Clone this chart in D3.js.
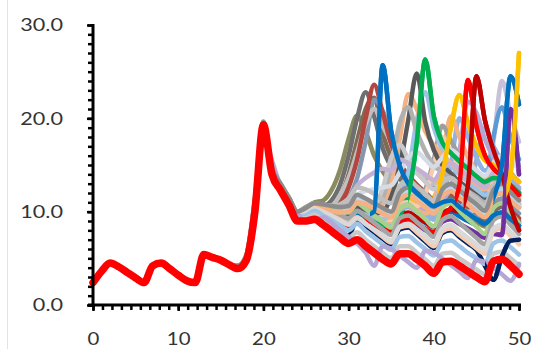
<!DOCTYPE html>
<html>
<head>
<meta charset="utf-8">
<script src="https://cdn.jsdelivr.net/npm/d3@7"></script>
<style>
  body { margin: 0; background: #fff; }
  svg text { font-family: Lato, "Open Sans", sans-serif; }
</style>
</head>
<body>
<svg id="chart" width="534" height="349"></svg>
<script>
// x categories and axis labels
const xCats = d3.range(0, 51);
const xTickLabels = [0, 10, 20, 30, 40, 50];
const yTickLabels = [0, 10, 20, 30];

// every run is the same up to x = 16
const sharedStart = [2.4, 3.6, 4.5, 4.1, 3.5, 2.9, 2.4, 4.2, 4.5, 3.9, 3.2, 2.6, 2.4, 5.4, 5.1, 4.8, 4.3];

// values from x = 17 to x = 50
const redTail = [3.9, 4.8, 10.0, 19.3,  14.0, 12.3, 10.7, 9.0, 9.0,  9.2, 8.6, 7.9, 7.2, 6.6,  7.0, 6.3, 5.6, 4.9, 4.4,  5.5, 5.5, 4.9, 4.2, 3.4,  4.6, 4.7, 4.2, 3.6, 3.0,  2.5, 4.7, 4.9, 4.2, 3.3];
const lowA = [4.0, 5.0, 10.6, 19.4,  14.2, 12.5, 10.9, 9.3, 9.3,  9.7, 9.1, 8.4, 7.8, 7.2,  7.8, 7.0, 6.3, 5.6, 5.0,  6.3, 6.3, 5.6, 4.9, 4.2,  5.5, 5.6, 5.0, 4.4, 3.8,  3.3, 5.5, 5.7, 5.0, 4.2];
const lowB = [4.1, 5.1, 10.9, 19.5,  14.4, 12.7, 11.1, 9.5, 9.6,  10.1, 9.6, 9.1, 8.5, 8.0,  8.7, 7.9, 7.2, 6.5, 5.9,  7.3, 7.4, 6.7, 6.0, 5.3,  6.7, 6.9, 6.3, 5.6, 5.0,  4.4, 6.6, 6.9, 6.2, 5.4];
const lowC = [4.1, 5.2, 11.1, 19.6,  14.5, 12.8, 11.3, 9.7, 9.9,  10.4, 10.0, 9.6, 9.1, 8.7,  9.4, 8.7, 8.0, 7.3, 6.7,  8.3, 8.5, 7.8, 7.0, 6.3,  7.9, 8.2, 7.5, 6.8, 6.1,  5.5, 7.9, 8.2, 7.4, 6.5];
const lowD = [4.2, 5.3, 11.3, 19.6,  14.6, 12.9, 11.4, 9.8, 10.1,  10.6, 10.3, 10.0, 9.6, 9.3,  10.1, 9.5, 8.8, 8.1, 7.5,  9.3, 9.6, 8.9, 8.1, 7.3,  9.1, 9.5, 8.8, 8.0, 7.2,  6.5, 9.1, 9.5, 8.6, 7.6];
const lowE = [4.2, 5.4, 11.5, 19.7,  14.7, 13.0, 11.5, 9.9, 10.3,  10.8, 10.6, 10.4, 10.1, 9.9,  10.9, 10.3, 9.6, 8.9, 8.3,  10.4, 10.8, 10.0, 9.2, 8.4,  10.4, 10.9, 10.1, 9.2, 8.4,  7.6, 10.4, 10.9, 9.9, 8.8];
const lowF = [4.2, 5.3, 11.2, 19.6,  14.7, 13.0, 11.5, 10.0, 10.4,  10.9, 10.8, 10.6, 10.5, 10.6,  11.8, 11.4, 10.9, 10.4, 10.0,  12.0, 12.6, 11.9, 11.2, 10.5,  12.4, 13.0, 12.3, 11.5, 10.8,  10.1, 12.3, 13.0, 12.1, 11.2];
const lowG = [4.1, 5.1, 10.7, 19.5,  14.4, 12.7, 11.1, 9.6, 9.8,  10.3, 9.9, 9.5, 9.0, 8.6,  9.3, 8.7, 8.1, 7.5, 6.9,  8.4, 8.7, 8.1, 7.4, 6.7,  8.2, 8.6, 7.9, 7.2, 6.5,  5.9, 8.2, 8.6, 7.8, 6.9];
const midA = [4.1, 5.2, 11.0, 19.6,  14.6, 12.9, 11.4, 9.9, 10.4,  10.9, 10.7, 10.6, 10.8, 11.4,  12.6, 12.4, 11.9, 11.3, 10.9,  12.8, 13.4, 12.7, 11.9, 11.2,  13.0, 13.6, 12.9, 12.1, 11.4,  10.7, 12.8, 13.5, 12.6, 11.7];
const midB = [4.1, 5.1, 10.8, 19.5,  14.5, 12.8, 11.2, 9.7, 10.1,  10.6, 10.3, 10.0, 9.8, 10.2,  11.4, 11.2, 10.7, 10.2, 9.8,  11.6, 12.1, 11.4, 10.7, 10.0,  11.8, 12.4, 11.7, 10.9, 10.2,  9.6, 11.7, 12.3, 11.5, 10.6];
const midC = [4.1, 5.1, 10.7, 19.5,  14.5, 12.8, 11.2, 9.7, 10.0,  10.5, 10.3, 10.1, 9.9, 10.0,  11.0, 10.8, 10.3, 9.8, 9.4,  11.2, 11.8, 11.2, 10.5, 9.8,  11.6, 12.2, 11.5, 10.8, 10.0,  9.4, 11.4, 12.0, 11.2, 10.4];
const midD = [4.1, 5.2, 10.9, 19.6,  14.6, 12.9, 11.4, 9.9, 10.3,  10.8, 10.6, 10.5, 10.6, 11.2,  12.8, 13.6, 14.2, 14.6, 14.4,  15.6, 15.2, 14.6, 14.0, 13.4,  14.6, 15.2, 14.6, 13.9, 13.2,  12.6, 14.2, 14.8, 14.0, 13.2];
const midE = [4.1, 5.1, 10.8, 19.5,  14.5, 12.8, 11.3, 9.8, 10.2,  10.7, 10.5, 10.3, 10.2, 10.6,  11.8, 12.2, 12.4, 12.6, 12.8,  14.2, 15.8, 16.4, 15.6, 14.8,  15.8, 16.6, 16.0, 15.2, 14.4,  13.8, 15.2, 16.0, 15.4, 14.6];
const lagA = [3.9, 4.6, 9.0, 18.5,  15.5, 12.8, 11.2, 9.8, 8.9,  9.0, 9.4, 8.8, 8.0, 7.3,  6.6, 5.6, 4.2, 6.3, 6.0,  5.3, 4.6, 4.0, 5.8, 5.6,  5.0, 4.3, 3.6, 2.9, 4.8,  4.6, 4.0, 3.3, 2.6, 4.4];
const lagB = [3.9, 4.7, 9.6, 19.2,  14.6, 12.6, 11.0, 9.4, 8.9,  9.1, 9.2, 8.6, 8.0, 7.4,  9.2, 8.5, 7.8, 7.1, 6.5,  8.1, 8.3, 7.6, 6.8, 6.1,  7.7, 8.0, 7.3, 6.6, 5.9,  4.2, 2.7, 5.2, 6.9, 7.0];

const peak31 = [4.2, 5.3, 11.1, 19.6,  14.7, 13.0, 11.5, 10.0, 10.5,  11.0, 11.2, 12.3, 14.5, 17.8,  20.3, 18.6, 16.0, 14.3, 13.1,  12.3, 12.6, 11.8, 11.0, 10.2,  10.7, 11.1, 10.4, 9.7, 9.0,  8.4, 9.3, 9.7, 9.0, 8.2];
const peak32 = [4.1, 5.2, 10.9, 19.5,  14.6, 12.9, 11.3, 9.8, 10.2,  10.7, 10.6, 11.2, 12.9, 16.0,  20.0, 22.8, 20.2, 16.8, 14.8,  13.5, 12.8, 12.0, 11.1, 10.3,  11.0, 11.4, 10.6, 9.9, 9.2,  8.6, 10.0, 10.5, 9.7, 8.8];
const peak32b = [4.1, 5.2, 10.8, 19.5,  14.6, 12.9, 11.3, 9.8, 10.2,  10.6, 10.4, 10.4, 11.6, 14.0,  17.6, 21.0, 22.2, 18.4, 15.8,  14.2, 13.2, 12.4, 11.6, 10.8,  11.4, 11.7, 10.9, 10.2, 9.6,  9.0, 10.2, 10.6, 9.8, 9.0];
const peak33 = [4.1, 5.1, 10.7, 19.5,  14.4, 12.7, 11.1, 9.6, 9.9,  10.5, 10.2, 10.1, 10.8, 12.6,  15.6, 20.0, 23.6, 20.6, 17.2,  15.2, 13.9, 12.9, 12.1, 11.3,  11.8, 12.0, 11.2, 10.6, 10.0,  9.4, 10.6, 10.9, 10.1, 9.3];
const peak33b = [4.1, 5.1, 10.6, 19.5,  14.4, 12.7, 11.1, 9.6, 9.8,  10.3, 10.0, 9.8, 10.2, 11.4,  13.6, 17.5, 22.0, 20.8, 18.4,  16.6, 15.2, 14.2, 13.3, 12.5,  12.6, 12.9, 12.2, 11.5, 10.8,  10.2, 11.0, 11.4, 10.6, 9.8];
const peak33c = [4.2, 5.3, 11.2, 19.6,  14.7, 13.0, 11.5, 10.0, 10.4,  10.9, 10.7, 10.7, 11.8, 13.6,  16.4, 19.4, 21.0, 19.2, 17.4,  16.0, 15.0, 14.2, 13.6, 13.0,  13.4, 13.8, 13.2, 12.6, 12.0,  11.4, 12.4, 12.8, 12.1, 11.4];
const peak34 = [4.0, 5.0, 10.5, 19.4,  14.3, 12.6, 11.0, 9.5, 9.6,  10.1, 9.8, 9.4, 9.0, 8.7,  9.5, 9.6, 10.0, 25.7, 18.6,  14.9, 13.0, 12.0, 11.2, 10.6,  11.0, 11.2, 10.5, 9.8, 9.2,  8.7, 9.6, 9.9, 9.2, 8.5];
const peak36 = [4.1, 5.2, 10.9, 19.5,  14.6, 12.9, 11.3, 9.8, 10.2,  10.6, 10.4, 10.2, 10.0, 10.2,  11.2, 11.0, 10.8, 12.5, 15.8,  17.2, 15.6, 14.2, 13.2, 12.4,  13.2, 13.6, 12.8, 12.0, 11.3,  10.6, 12.2, 12.8, 11.9, 11.0];
const peak37 = [4.1, 5.2, 10.9, 19.6,  14.6, 12.9, 11.4, 9.9, 10.3,  10.7, 10.5, 10.3, 10.1, 10.0,  11.1, 11.0, 10.7, 11.5, 15.0,  19.5, 21.2, 18.6, 16.5, 15.0,  14.2, 13.6, 12.8, 12.2, 11.6,  11.0, 12.0, 12.3, 11.6, 10.8];
const peak37b = [4.2, 5.2, 10.9, 19.6,  14.6, 12.9, 11.4, 9.9, 10.3,  10.7, 10.5, 10.3, 10.1, 10.0,  11.0, 10.9, 10.5, 10.8, 13.2,  17.8, 22.6, 21.0, 18.6, 17.1,  16.0, 15.2, 14.5, 13.8, 13.0,  12.4, 12.8, 13.0, 12.2, 11.4];
const peak38 = [4.1, 5.2, 10.8, 19.5,  14.6, 12.9, 11.3, 9.8, 10.2,  10.6, 10.3, 10.0, 9.7, 9.5,  10.4, 10.2, 9.8, 10.0, 11.6,  14.8, 19.8, 24.8, 19.6, 16.6,  15.0, 14.1, 13.2, 12.5, 11.8,  11.2, 11.8, 12.0, 11.3, 10.5];
const peak39 = [4.1, 5.1, 10.6, 19.5,  14.5, 12.8, 11.2, 9.7, 10.0,  10.4, 10.0, 9.6, 9.2, 8.9,  9.8, 9.5, 9.0, 8.6, 8.4,  9.6, 11.8, 17.5, 26.3, 20.2,  17.4, 16.3, 15.4, 14.6, 13.8,  13.2, 13.6, 13.5, 12.8, 12.0];
const peak39b = [4.1, 5.1, 10.7, 19.5,  14.5, 12.8, 11.3, 9.8, 10.1,  10.5, 10.2, 9.9, 9.5, 9.3,  10.2, 10.0, 9.6, 9.2, 9.6,  11.6, 14.2, 19.8, 22.8, 19.0,  16.6, 15.0, 14.0, 13.2, 12.5,  11.8, 12.2, 12.4, 11.6, 10.8];
const peak41 = [4.1, 5.1, 10.7, 19.5,  14.5, 12.8, 11.2, 9.7, 10.0,  10.4, 10.1, 9.8, 9.5, 9.4,  10.3, 10.1, 9.7, 9.3, 9.1,  10.6, 11.0, 10.6, 11.8, 15.0,  18.0, 16.4, 15.0, 14.0, 13.2,  12.4, 13.0, 13.2, 12.4, 11.6];
const peak41b = [4.1, 5.2, 10.8, 19.5,  14.6, 12.9, 11.3, 9.8, 10.2,  10.6, 10.4, 10.2, 10.0, 9.8,  10.8, 10.6, 10.2, 9.8, 9.6,  11.2, 11.8, 11.4, 12.4, 15.6,  19.2, 17.6, 16.0, 14.8, 13.8,  13.0, 13.4, 13.6, 12.9, 12.1];
const peak42 = [4.1, 5.1, 10.7, 19.5,  14.5, 12.8, 11.2, 9.7, 10.0,  10.4, 10.1, 9.8, 9.5, 9.3,  10.2, 10.0, 9.6, 9.2, 8.9,  10.3, 10.7, 10.2, 9.8, 11.0,  15.5, 20.2, 18.0, 15.8, 14.4,  13.4, 13.8, 13.4, 12.6, 11.8];
const peak43 = [4.1, 5.2, 10.8, 19.5,  14.6, 12.9, 11.3, 9.8, 10.2,  10.6, 10.4, 10.2, 10.0, 9.9,  10.9, 10.8, 10.4, 10.0, 9.8,  11.0, 11.4, 11.0, 10.6, 11.5,  14.0, 19.0, 22.5, 19.5, 17.0,  15.5, 15.0, 14.6, 14.0, 13.2];
const peak43b = [4.1, 5.1, 10.7, 19.5,  14.5, 12.8, 11.2, 9.7, 10.0,  10.4, 10.1, 9.8, 9.5, 9.2,  10.1, 9.8, 9.4, 9.0, 8.8,  10.2, 10.5, 10.0, 9.5, 9.2,  11.5, 15.0, 20.0, 18.0, 15.8,  14.4, 14.8, 14.2, 13.3, 12.4];
const peak44 = [4.0, 5.0, 10.4, 19.4,  14.3, 12.6, 11.0, 9.5, 9.6,  10.0, 9.7, 9.3, 8.9, 8.5,  9.3, 9.0, 8.6, 8.2, 7.8,  9.0, 9.2, 8.7, 8.2, 7.8,  9.5, 10.4, 12.8, 24.1, 19.2,  16.0, 14.6, 13.8, 12.8, 11.8];
const peak44b = [4.1, 5.2, 10.8, 19.5,  14.6, 12.9, 11.3, 9.8, 10.2,  10.6, 10.3, 10.1, 9.8, 9.6,  10.5, 10.3, 9.9, 9.5, 9.2,  10.6, 11.0, 10.5, 10.0, 9.6,  11.2, 12.6, 16.5, 21.8, 20.6,  17.8, 15.8, 14.6, 13.6, 12.6];
const peak45 = [4.1, 5.1, 10.6, 19.5,  14.5, 12.8, 11.2, 9.7, 10.0,  10.4, 10.0, 9.6, 9.3, 9.0,  9.8, 9.5, 9.1, 8.7, 8.3,  9.6, 9.9, 9.4, 8.9, 8.4,  9.8, 10.2, 10.0, 12.8, 24.5,  19.8, 16.6, 14.0, 10.5, 8.0];
const peak46 = [4.1, 5.1, 10.7, 19.5,  14.5, 12.8, 11.2, 9.7, 10.0,  10.4, 10.1, 9.8, 9.5, 9.3,  10.2, 10.0, 9.6, 9.2, 8.9,  10.3, 10.6, 10.1, 9.6, 9.2,  10.7, 11.1, 10.5, 11.8, 15.5,  19.0, 17.0, 15.4, 14.2, 13.2];
const peak47 = [4.1, 5.1, 10.7, 19.5,  14.5, 12.8, 11.2, 9.7, 10.0,  10.4, 10.1, 9.8, 9.5, 9.3,  10.2, 10.0, 9.6, 9.2, 8.9,  10.3, 10.6, 10.1, 9.6, 9.2,  10.7, 11.1, 10.5, 9.9, 9.4,  12.0, 18.0, 21.2, 18.0, 15.6];
const peak48 = [4.1, 5.1, 10.7, 19.5,  14.5, 12.8, 11.2, 9.7, 10.0,  10.4, 10.1, 9.8, 9.5, 9.2,  10.1, 9.8, 9.4, 9.0, 8.8,  10.2, 10.5, 10.0, 9.5, 9.2,  10.8, 11.2, 10.6, 10.0, 10.2,  12.5, 17.5, 24.0, 20.5, 17.5];
const peak49 = [4.0, 5.0, 10.5, 19.4,  14.4, 12.7, 11.1, 9.6, 9.8,  10.2, 9.9, 9.6, 9.2, 8.9,  9.7, 9.5, 9.1, 8.7, 8.3,  9.5, 9.8, 9.3, 8.8, 8.3,  9.6, 10.0, 9.5, 9.0, 8.6,  9.5, 11.5, 15.0, 24.5, 21.5];
const peak49b = [4.0, 5.0, 10.5, 19.4,  14.3, 12.6, 11.0, 9.5, 9.6,  10.0, 9.7, 9.3, 8.9, 8.5,  9.2, 8.8, 8.4, 8.0, 7.6,  8.8, 9.0, 8.5, 8.0, 7.6,  8.9, 9.2, 8.7, 8.2, 7.7,  7.2, 7.6, 7.5, 21.0, 14.0];
const peak50 = [4.1, 5.1, 10.7, 19.5,  14.5, 12.8, 11.2, 9.7, 10.0,  10.4, 10.1, 9.8, 9.5, 9.3,  10.2, 10.0, 9.6, 9.2, 8.9,  10.3, 10.6, 10.1, 9.6, 9.2,  10.7, 11.1, 10.5, 9.9, 9.4,  8.9, 10.5, 11.2, 14.0, 27.0];

// drawing order: first ones end up underneath
const runs = [
  { tail: lagB, color: "#002060" },
  { tail: peak50, color: "#ffc000" },
  { tail: peak49, color: "#0070c0" },
  { tail: peak49b, color: "#7030a0" },
  { tail: peak45, color: "#c00000" },
  { tail: peak44, color: "#ff0000" },
  { tail: peak43, color: "#ffc000" },
  { tail: peak39, color: "#00b050" },
  { tail: peak34, color: "#0070c0" },
  { tail: peak31, color: "#8b8b60" },
  { tail: peak32, color: "#6f6f6f" },
  { tail: peak32b, color: "#7f6a55" },
  { tail: peak33b, color: "#8497b0" },
  { tail: peak33c, color: "#bfbfbf" },
  { tail: peak33, color: "#b3473f" },
  { tail: peak48, color: "#c9c0da" },
  { tail: peak47, color: "#5b9bd5" },
  { tail: peak46, color: "#8faadc" },
  { tail: peak44b, color: "#b4a7d6" },
  { tail: peak43b, color: "#8fb4e3" },
  { tail: peak42, color: "#f4b183" },
  { tail: peak41b, color: "#9e9e9e" },
  { tail: peak41, color: "#f8cbad" },
  { tail: peak39b, color: "#9dc3e6" },
  { tail: peak37b, color: "#f4b183" },
  { tail: peak38, color: "#595959" },
  { tail: peak37, color: "#b0b0b0" },
  { tail: peak36, color: "#c9c9c9" },
  { tail: midE, color: "#d6dce5" },
  { tail: midD, color: "#c5b0d5" },
  { tail: midA, color: "#bfbfbf" },
  { tail: midB, color: "#bdd7ee" },
  { tail: lowE, color: "#a9d18e" },
  { tail: lowD, color: "#a5a5a5" },
  { tail: midC, color: "#f4b183" },
  { tail: lowC, color: "#f8cbad" },
  { tail: lowG, color: "#d9d9d9" },
  { tail: lowB, color: "#9dc3e6" },
  { tail: lowA, color: "#c9c9c9" },
  { tail: lagA, color: "#b4a7d6" },
  { tail: lowF, color: "#8c8c8c" }
];

// runs whose outbreak is brought to the front, from this x on
const frontFrom = [
  { tail: peak34, color: "#0070c0", from: 32.5 },
  { tail: peak39, color: "#00b050", from: 37 },
  { tail: peak43, color: "#ffc000", from: 40.5 },
  { tail: peak44, color: "#ff0000", from: 42.5 },
  { tail: peak45, color: "#c00000", from: 43.5 },
  { tail: peak49b, color: "#7030a0", from: 47.5 },
  { tail: peak49, color: "#0070c0", from: 47 },
  { tail: lagB, color: "#002060", from: 46 },
  { tail: peak50, color: "#ffc000", from: 48.5 }
];

const svg = d3.select("#chart");

// faint frame edge on the left
svg.append("line")
  .attr("x1", 7.5).attr("x2", 7.5)
  .attr("y1", 0).attr("y2", 349)
  .attr("stroke", "#e3e3e3");

const x = d3.scaleLinear().domain([0, 50]).range([93, 519]);
const y = d3.scaleLinear().domain([0, 30]).range([305, 25]);

const line = d3.line()
  .x((d, i) => x(xCats[i]))
  .y(d => y(d))
  .curve(d3.curveMonotoneX);

const defs = svg.append("defs");
frontFrom.forEach((d, i) => {
  defs.append("clipPath").attr("id", "front" + i)
    .append("rect")
    .attr("x", x(d.from)).attr("y", 0)
    .attr("width", 534 - x(d.from)).attr("height", 349);
});

const plot = svg.append("g");

plot.selectAll("path.run")
  .data(runs)
  .enter()
  .append("path")
  .attr("class", "run")
  .attr("d", d => line(sharedStart.concat(d.tail)))
  .attr("fill", "none")
  .attr("stroke", d => d.color)
  .attr("stroke-width", 4.5)
  .attr("stroke-linejoin", "round")
  .attr("stroke-linecap", "round");

plot.selectAll("path.front")
  .data(frontFrom)
  .enter()
  .append("path")
  .attr("class", "front")
  .attr("clip-path", (d, i) => "url(#front" + i + ")")
  .attr("d", d => line(sharedStart.concat(d.tail)))
  .attr("fill", "none")
  .attr("stroke", d => d.color)
  .attr("stroke-width", 4.5)
  .attr("stroke-linejoin", "round")
  .attr("stroke-linecap", "round");

// the highlighted run sits on top
plot.append("path")
  .attr("d", line(sharedStart.concat(redTail)))
  .attr("fill", "none")
  .attr("stroke", "#ff0000")
  .attr("stroke-width", 7.5)
  .attr("stroke-linejoin", "round")
  .attr("stroke-linecap", "round");

// minor ticks
svg.append("g")
  .attr("transform", "translate(93,0)")
  .call(d3.axisLeft(y).tickValues(d3.range(0, 30.01, 1)).tickSize(5).tickFormat(""))
  .call(g => g.select(".domain").remove())
  .selectAll("line").attr("stroke", "#000").attr("stroke-width", 2.5);

svg.append("g")
  .attr("transform", "translate(0,305)")
  .call(d3.axisBottom(x).tickValues(d3.range(0, 50.01, 10 / 9)).tickSize(5).tickFormat(""))
  .call(g => g.select(".domain").remove())
  .selectAll("line").attr("stroke", "#000").attr("stroke-width", 2.5);

// major axes
const yAxis = svg.append("g")
  .attr("transform", "translate(93,0)")
  .call(d3.axisLeft(y).tickValues(yTickLabels).tickSize(6).tickFormat(d3.format(".1f")));

yAxis.select(".domain").attr("stroke", "#000").attr("stroke-width", 3)
  .attr("d", "M0," + (y(30) - 1) + "V" + (y(0) + 1.5));
yAxis.selectAll("line").attr("stroke", "#000").attr("stroke-width", 2.5);
yAxis.selectAll("text")
  .attr("x", 0)
  .attr("transform", "translate(-30,0) scale(1.2,1)")
  .attr("fill", "#333")
  .style("font-size", "18px");

const xAxis = svg.append("g")
  .attr("transform", "translate(0,305)")
  .call(d3.axisBottom(x).tickValues(xTickLabels).tickSize(6).tickFormat(d3.format("d")));

xAxis.select(".domain").attr("stroke", "#000").attr("stroke-width", 3)
  .attr("d", "M" + (x(0) - 5) + ",0H" + (x(50) + 2));
xAxis.selectAll("line").attr("stroke", "#000").attr("stroke-width", 2.5);
xAxis.selectAll("text")
  .attr("y", 0)
  .attr("dy", null)
  .attr("transform", "translate(0,39.5) scale(1.2,1)")
  .attr("fill", "#333")
  .style("font-size", "17px");
</script>
</body>
</html>
